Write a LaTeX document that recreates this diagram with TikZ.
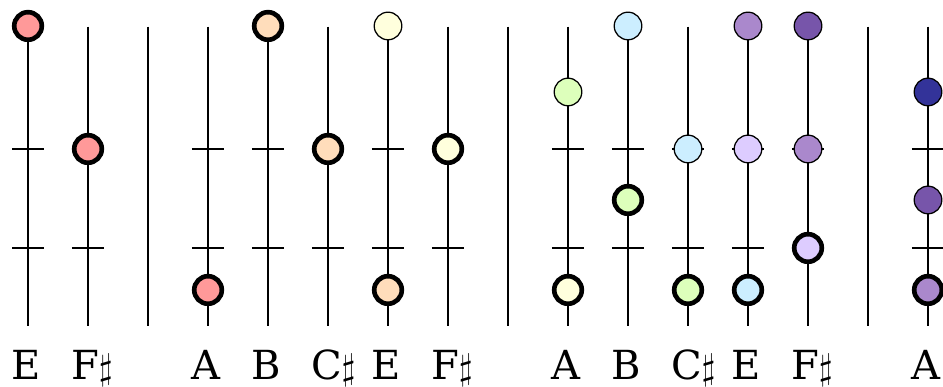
\documentclass[tikz,border=0pt]{standalone}
\usepackage{fontspec}
\setmainfont{DejaVu Serif}
\usetikzlibrary{positioning}
\tikzset{every picture/.style={line width=0.95pt}}

\definecolor{cRed}{HTML}{FF9999}
\definecolor{cPeach}{HTML}{FFDDBB}
\definecolor{cYellow}{HTML}{FFFFDD}
\definecolor{cGreen}{HTML}{DDFFBB}
\definecolor{cBlue}{HTML}{CCEEFF}
\definecolor{cLilac}{HTML}{DDCCFF}
\definecolor{cViolet}{HTML}{AA88CC}
\definecolor{cPurple}{HTML}{7755AA}
\definecolor{cNavy}{HTML}{333399}

\tikzset{
    note/.style={circle, draw, minimum size=0.46cm, inner sep=0pt, line width=0.6pt},
    root/.style={note, line width=2.2pt},
    pitch/.style={anchor=base west, inner sep=0pt, font=\fontsize{19}{23}\selectfont},
}

\begin{document}
\begin{tikzpicture}
    \useasboundingbox (-0.467,0) rectangle (15.25,-6.45);
    % strings with frets and pitch names
    \foreach \x/\lab [count=\i] in {0/E, 1/F$\sharp$, 3/A, 4/B, 5/C$\sharp$, 6/E, 7/F$\sharp$,
                                    9/A, 10/B, 11/C$\sharp$, 12/E, 13/F$\sharp$, 15/A} {
        \coordinate (t\i) at (\x,-0.445);
        \coordinate (b\i) at (\x,-5.433);
        \draw (t\i) -- (b\i);
        \foreach \y [count=\j] in {-2.483,-4.133} {
            \coordinate (l\i-\j) at (\x-0.267,\y);
            \coordinate (r\i-\j) at (\x+0.267,\y);
            \draw (l\i-\j) -- (r\i-\j);
        }
        \node[pitch] (lab\i) at (\x-0.3,-6.317) {\lab};
    }
    % bar lines
    \foreach \x [count=\i] in {2,8,14} {
        \coordinate (bt\i) at (\x,-0.445);
        \coordinate (bb\i) at (\x,-5.433);
        \draw (bt\i) -- (bb\i);
    }
    % notes
    \foreach \x/\y/\c/\s [count=\k] in {
            0/-0.433/cRed/root, 1/-2.483/cRed/root, 3/-4.833/cRed/root,
            4/-0.433/cPeach/root, 5/-2.483/cPeach/root,
            6/-0.433/cYellow/note, 6/-4.833/cPeach/root, 7/-2.483/cYellow/root,
            9/-1.533/cGreen/note, 9/-4.833/cYellow/root,
            10/-0.433/cBlue/note, 10/-3.333/cGreen/root,
            11/-2.483/cBlue/note, 11/-4.833/cGreen/root,
            12/-0.433/cViolet/note, 12/-2.483/cLilac/note, 12/-4.833/cBlue/root,
            13/-0.433/cPurple/note, 13/-2.483/cViolet/note, 13/-4.133/cLilac/root,
            15/-1.533/cNavy/note, 15/-3.333/cPurple/note, 15/-4.833/cViolet/root} {
        \node[style=\s, fill=\c] (n\k) at (\x,\y) {};
    }
\end{tikzpicture}
\end{document}
